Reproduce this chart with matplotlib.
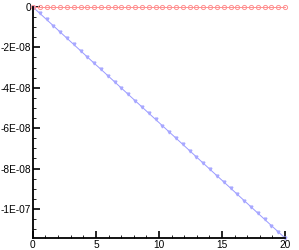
import matplotlib.pyplot as plt
from matplotlib.ticker import MultipleLocator, FixedLocator

plt.rcParams['font.family'] = ['Liberation Sans', 'DejaVu Sans']

# sample positions along x
x = [0.0, 0.54, 1.08, 1.62, 2.16, 2.70, 3.24, 3.78, 4.32, 4.86,
     5.41, 5.95, 6.49, 7.03, 7.57, 8.11, 8.65, 9.19, 9.73, 10.27,
     10.81, 11.35, 11.89, 12.43, 12.97, 13.51, 14.05, 14.59, 15.14, 15.68,
     16.22, 16.76, 17.30, 17.84, 18.38, 18.92, 19.46, 20.0]

# red series: stays at zero
y_red = [0.0] * len(x)

# blue series (units of 1e-9)
y_blue_e9 = [0, -3.09, -6.18, -9.28, -12.37, -15.46, -18.55, -21.64, -24.74, -27.83,
             -30.92, -34.01, -37.10, -40.20, -43.29, -46.38, -49.47, -52.56, -55.66, -58.75,
             -61.84, -64.93, -68.02, -71.12, -74.21, -77.30, -80.39, -83.48, -86.58, -89.67,
             -92.76, -95.85, -98.94, -102.04, -105.13, -108.22, -111.31, -114.40]
y_blue = [v * 1e-9 for v in y_blue_e9]

y_ticks = [0, -2e-8, -4e-8, -6e-8, -8e-8, -1e-7]
y_labels = ['0', '-2E-08', '-4E-08', '-6E-08', '-8E-08', '-1E-07']
x_ticks = [0, 5, 10, 15, 20]

fig = plt.figure(figsize=(2.99, 2.5), dpi=100)
ax = fig.add_axes([0.110, 0.048, 0.843, 0.924])

ax.plot(x, y_blue, color='#9a9aff', lw=0.7, marker='v', ms=2.0,
        mec='#a8a8ff', mfc='#a8a8ff', clip_on=False)
ax.plot(x, y_red, color='#ff9090', lw=0.7, marker='o', ms=3.0,
        mfc='none', mec='#ff9090', mew=0.7, clip_on=False)

ax.set_xlim(0, 20)
ax.set_ylim(-1.144e-7, 0)

ax.xaxis.set_major_locator(FixedLocator(x_ticks))
ax.xaxis.set_minor_locator(MultipleLocator(1))
ax.yaxis.set_major_locator(FixedLocator(y_ticks))
ax.yaxis.set_minor_locator(MultipleLocator(5e-9))
ax.set_yticklabels(y_labels)

for side in ['top', 'right']:
    ax.spines[side].set_visible(False)
for side in ['left', 'bottom']:
    ax.spines[side].set_linewidth(1.3)

ax.tick_params(which='major', direction='in', length=5, width=1.2,
               labelsize=7.3, pad=1.5)
ax.tick_params(which='minor', direction='in', length=2.5, width=0.6)

fig.savefig('out.png', dpi=100)
